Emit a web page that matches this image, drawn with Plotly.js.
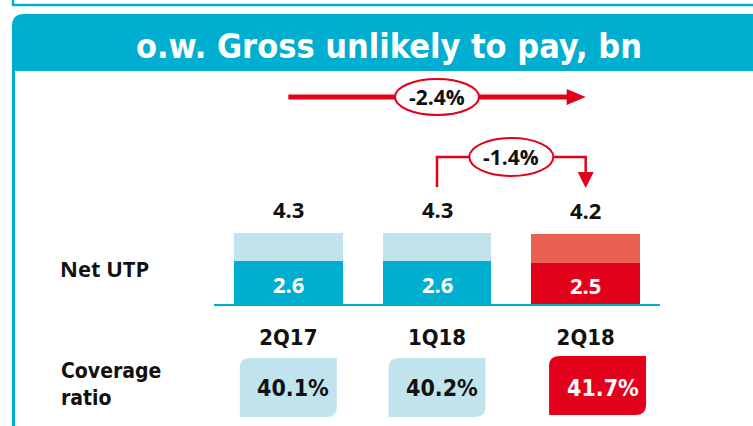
<!DOCTYPE html>
<html><head><meta charset="utf-8">
<script src="https://cdn.plot.ly/plotly-3.0.1.min.js"></script>
<style>html,body{margin:0;padding:0;background:#fff}#chart{width:753px;height:426px}</style>
</head><body><div id="chart"></div>
<script>
// ---- data ----
const categories = ['2Q17', '1Q18', '2Q18'];
const grossUTP = [4.3, 4.3, 4.2];
const netUTP = [2.6, 2.6, 2.5];
const coverageRatio = [40.1, 40.2, 41.7];
const changeLabels = ['-2.4%', '-1.4%'];
const titleText = 'o.w. Gross unlikely to pay, bn';

// ---- styles ----
const CYAN = '#00AFCF', LIGHT = '#C0E3EC', RED = '#E2001A', LRED = '#EA5F50';
const COND = '"DejaVu Sans Condensed", "Liberation Sans Narrow", Roboto, sans-serif';
const BOLD = '"Open Sans", Lato, sans-serif';
const W = 753, H = 426, L = 214, R = 660, T = 0, B = 304;
const X = p => (p - L) / (R - L);
const Y = p => (B - p) / (B - T);
const ppu = (R - L) / categories.length;
const dx = p => p / ppu;
const dy = p => p / (B - T);
const f = v => v.toFixed(5);

const idx = categories.map((c, i) => i);
const last = categories.length - 1;
const remainder = grossUTP.map((g, i) => +(g - netUTP[i]).toFixed(1));
const darkCols = idx.map(i => i === last ? RED : CYAN);
const lightCols = idx.map(i => i === last ? LRED : LIGHT);

const traces = [
  {type: 'bar', x: idx, y: netUTP, width: 0.73, marker: {color: darkCols, line: {width: 0}}, hoverinfo: 'none'},
  {type: 'bar', x: idx, y: remainder, width: 0.73, marker: {color: lightCols, line: {width: 0}}, hoverinfo: 'none'}
];

const shapes = [];
const annotations = [];

// frame pieces
shapes.push({type: 'path', xref: 'paper', yref: 'paper',
  path: `M ${f(X(13))},${f(Y(0))} L ${f(X(13))},${f(Y(5))} L ${f(X(753))},${f(Y(5))}`,
  line: {color: CYAN, width: 2.5}});
shapes.push({type: 'path', xref: 'paper', yref: 'paper',
  path: `M ${f(X(12))},${f(Y(71))} L ${f(X(12))},${f(Y(26))} Q ${f(X(12))},${f(Y(14))} ${f(X(24))},${f(Y(14))} L ${f(X(753))},${f(Y(14))} L ${f(X(753))},${f(Y(71))} Z`,
  fillcolor: CYAN, line: {width: 0}});
shapes.push({type: 'rect', xref: 'paper', yref: 'paper', x0: X(12), x1: X(15), y0: Y(71), y1: Y(426),
  fillcolor: CYAN, line: {width: 0}});

// inner net labels
idx.forEach(i => {
  annotations.push({xref: 'x', yref: 'y', x: i, y: netUTP[i] / 2, yanchor: 'middle', yshift: -2, showarrow: false,
    text: netUTP[i].toFixed(1), font: {family: BOLD, size: 22, color: '#fff', weight: 'bold'}});
});

// coverage boxes
const boxShift = [0, 0, 0.08];
function roundedBox(cx, hw, top, bot, r) {
  const x0 = cx - dx(hw), x1 = cx + dx(hw), yT = Y(top), yB = Y(bot), rx = dx(r), ry = dy(r);
  return `M ${f(x0)},${f(yB)} L ${f(x0)},${f(yT - ry)} Q ${f(x0)},${f(yT)} ${f(x0 + rx)},${f(yT)} L ${f(x1)},${f(yT)} L ${f(x1)},${f(yB + ry)} Q ${f(x1)},${f(yB)} ${f(x1 - rx)},${f(yB)} Z`;
}
idx.forEach(i => {
  shapes.push({type: 'path', xref: 'x', yref: 'paper', path: roundedBox(i + boxShift[i], 48.5, i === last ? 356 : 358, i === last ? 415 : 417, 10),
    fillcolor: i === last ? RED : LIGHT, line: {width: 0}});
  annotations.push({xref: 'x', yref: 'paper', x: i + boxShift[i], y: Y(388), xshift: 5, yanchor: 'middle', showarrow: false,
    text: coverageRatio[i].toFixed(1) + '%', font: {family: COND, size: 23, color: i === last ? '#fff' : '#111', weight: 'bold'}});
});

// totals above bars
idx.forEach(i => {
  annotations.push({xref: 'x', yref: 'y', x: i, y: grossUTP[i], yanchor: 'bottom', yshift: 7, showarrow: false,
    text: grossUTP[i].toFixed(1), font: {family: BOLD, size: 22, color: '#111', weight: 'bold'}});
});

// left labels
annotations.push({xref: 'paper', yref: 'paper', x: X(58), y: Y(268), xanchor: 'left', yanchor: 'middle', showarrow: false,
  text: 'Net UTP', font: {family: BOLD, size: 22, color: '#111', weight: 'bold'}});
annotations.push({xref: 'paper', yref: 'paper', x: X(59), y: Y(384), xanchor: 'left', yanchor: 'middle', align: 'left', showarrow: false,
  text: 'Coverage<br>ratio', font: {family: COND, size: 21, color: '#111', weight: 'bold'}});

// change arrows
const yA = 97, yB2 = 157;
shapes.push({type: 'line', xref: 'x', yref: 'paper', x0: 0, x1: last - dx(18), y0: Y(yA), y1: Y(yA), line: {color: RED, width: 5}});
shapes.push({type: 'path', xref: 'x', yref: 'paper', path: `M ${f(last - dx(19))},${f(Y(yA - 8))} L ${f(last)},${f(Y(yA))} L ${f(last - dx(19))},${f(Y(yA + 8))} Z`,
  fillcolor: RED, line: {width: 0}});
shapes.push({type: 'circle', xref: 'x', yref: 'paper', x0: 1 - dx(42), x1: 1 + dx(42), y0: Y(yA + 18), y1: Y(yA - 18),
  fillcolor: '#fff', line: {color: RED, width: 2}});
annotations.push({xref: 'x', yref: 'paper', x: 1, y: Y(yA), yanchor: 'middle', showarrow: false, text: changeLabels[0],
  font: {family: BOLD, size: 21, color: '#111', weight: 'bold'}});

shapes.push({type: 'path', xref: 'x', yref: 'paper', path: `M 1,${f(Y(187))} L 1,${f(Y(yB2))} L ${last},${f(Y(yB2))} L ${last},${f(Y(173))}`,
  line: {color: RED, width: 2.5}});
shapes.push({type: 'path', xref: 'x', yref: 'paper', path: `M ${f(last - dx(8))},${f(Y(172))} L ${f(last + dx(8))},${f(Y(172))} L ${last},${f(Y(188))} Z`,
  fillcolor: RED, line: {width: 0}});
shapes.push({type: 'circle', xref: 'x', yref: 'paper', x0: 1.5 - dx(42), x1: 1.5 + dx(42), y0: Y(yB2 + 19), y1: Y(yB2 - 19),
  fillcolor: '#fff', line: {color: RED, width: 2}});
annotations.push({xref: 'x', yref: 'paper', x: 1.5, y: Y(yB2), yanchor: 'middle', showarrow: false, text: changeLabels[1],
  font: {family: BOLD, size: 21, color: '#111', weight: 'bold'}});

const layout = {
  width: W, height: H, margin: {l: L, r: W - R, t: T, b: H - B, pad: 0},
  paper_bgcolor: '#fff', plot_bgcolor: '#fff', showlegend: false, barmode: 'stack',
  title: {text: titleText, font: {family: COND, size: 34, color: '#fff', weight: 'bold'}, x: 389 / W, xanchor: 'center',
    y: 1 - 46 / H, yanchor: 'middle', xref: 'container', yref: 'container'},
  xaxis: {type: 'linear', range: [-0.5, last + 0.5], tickvals: idx, ticktext: categories, ticks: 'outside', ticklen: 13,
    tickcolor: 'rgba(0,0,0,0)', tickfont: {family: COND, size: 22, color: '#111', weight: 'bold'}, showline: true, linecolor: CYAN, linewidth: 2,
    showgrid: false, zeroline: false, fixedrange: true},
  yaxis: {range: [0, 304 / 16.6], visible: false, showgrid: false, zeroline: false, fixedrange: true},
  shapes: shapes, annotations: annotations
};

Plotly.newPlot('chart', traces, layout, {displayModeBar: false, staticPlot: true});
</script></body></html>
